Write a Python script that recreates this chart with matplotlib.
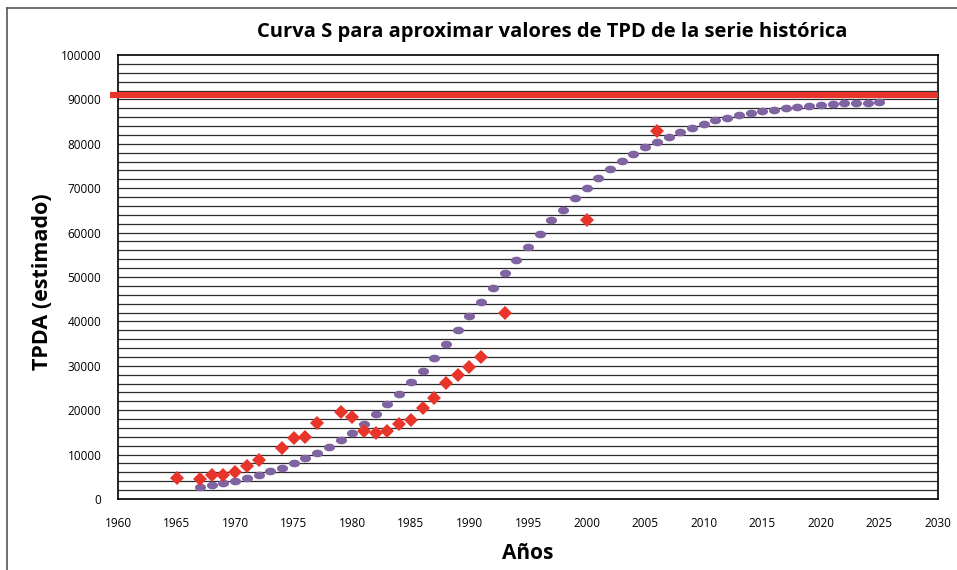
import matplotlib
matplotlib.use("Agg")
import matplotlib.pyplot as plt
import numpy as np
from matplotlib.path import Path
from matplotlib.lines import Line2D

# Data
years_curve = list(range(1967, 2026))
tpda_curve = [2700, 3200, 3600, 4100, 4800, 5500, 6200, 7000, 8000, 9200,
              10400, 11800, 13300, 14900, 17000, 19100, 21300, 23700, 26300, 28900,
              31800, 34900, 38000, 41200, 44300, 47500, 50800, 53800, 56700, 59700,
              62800, 65000, 67700, 70000, 72300, 74300, 76100, 77700, 79300, 80400,
              81500, 82600, 83500, 84400, 85300, 85800, 86400, 87000, 87400, 87700,
              88100, 88300, 88600, 88700, 88900, 89100, 89200, 89300, 89500]
years_obs = [1965, 1967, 1968, 1969, 1970, 1971, 1972, 1974, 1975, 1976, 1977,
             1979, 1980, 1981, 1982, 1983, 1984, 1985, 1986, 1987, 1988, 1989,
             1990, 1991, 1993, 2000, 2006]
tpda_obs = [4700, 4500, 5300, 5500, 6100, 7400, 8800, 11500, 13700, 13900, 17100,
            19700, 18500, 15400, 14900, 15400, 17000, 17900, 20500, 22800, 26200, 28000,
            29800, 31900, 41900, 62900, 82900]
capacity = 91000
x_ticks = list(range(1960, 2031, 5))
y_ticks = list(range(0, 100001, 10000))

FONT = "Open Sans"
fig = plt.figure(figsize=(9.57, 5.70), dpi=100)
ax = fig.add_axes([118/957, 1-499/570, (938-118)/957, (499-55)/570])

ax.set_xlim(1960, 2030)
ax.set_ylim(0, 100000)

# grid lines every 2000
for g in range(2000, 100000, 2000):
    ax.axhline(g, color="#2a2a2a", lw=0.9, zorder=1)

t = np.linspace(0, 2*np.pi, 60)
ell = Path(np.column_stack([1.45*np.cos(t), np.sin(t)]))
ax.plot(years_curve, tpda_curve, linestyle="none", marker=ell, markersize=8,
        color="#8064a2", markeredgewidth=0, zorder=3)
ax.plot(years_obs, tpda_obs, linestyle="none", marker="D", markersize=7.5,
        color="#e8352b", markeredgewidth=0, zorder=4)
ax.plot([1959.3, 2030], [capacity, capacity], color="#e8352b", lw=4.5,
        clip_on=False, zorder=5, solid_capstyle="butt")

ax.set_xticks(x_ticks)
ax.set_yticks(y_ticks)
ax.tick_params(axis="x", length=0, pad=13, labelsize=8.5)
ax.tick_params(axis="y", length=0, pad=12, labelsize=8.5)
for lab in ax.get_xticklabels() + ax.get_yticklabels():
    lab.set_fontfamily(FONT)
for s in ax.spines.values():
    s.set_linewidth(1.2)
    s.set_color("black")

ax.set_xlabel("Años", fontsize=15, fontweight="bold", fontfamily=FONT, labelpad=9)
ax.set_ylabel("TPDA (estimado)", fontsize=15.5, fontweight="bold", fontfamily=FONT,
              va="center")
ax.yaxis.set_label_coords((42-118)/820, (499-282)/444)
fig.text(552/957, 1-32/570, "Curva S para aproximar valores de TPD de la serie histórica",
         ha="center", va="center", fontsize=14.5, fontweight="bold", fontfamily=FONT)

# figure frame
fig.add_artist(Line2D([7.5/957, 7.5/957], [0, 1-8/570], transform=fig.transFigure,
                      color="#555555", lw=1.2))
fig.add_artist(Line2D([7.5/957, 1], [1-8/570, 1-8/570], transform=fig.transFigure,
                      color="#555555", lw=1.2))

fig.savefig("out.png", dpi=100)
